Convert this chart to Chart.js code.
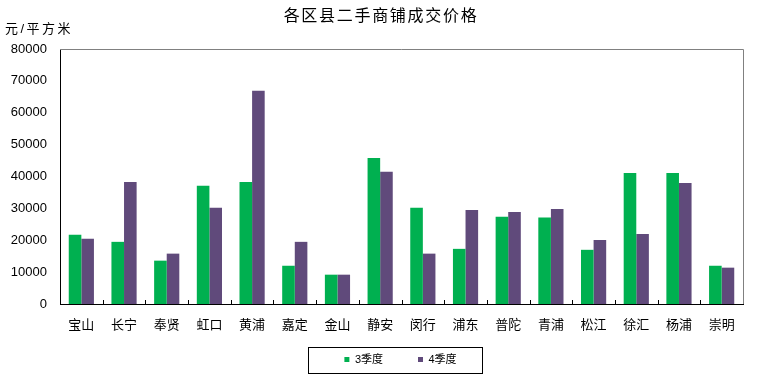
<!DOCTYPE html>
<html><head><meta charset="utf-8">
<script src="https://cdn.jsdelivr.net/npm/chart.js@4.4.1/dist/chart.umd.min.js"></script>
<style>html,body{margin:0;padding:0;background:#fff}#wrap{width:759px;height:385px}</style>
</head><body><div id="wrap"><canvas id="c" width="759" height="385"></canvas></div>
<script>
const categories = ["宝山","长宁","奉贤","虹口","黄浦","嘉定","金山","静安","闵行","浦东","普陀","青浦","松江","徐汇","杨浦","崇明"];
const q3 = [21700,19500,13600,37100,38300,12000,9200,45800,30200,17300,27400,27100,17000,41100,41100,12000];
const q4 = [20500,38300,15800,30200,66900,19500,9200,41500,15800,29500,28900,29800,20100,22000,38000,11400];
const yTicks = [0,10000,20000,30000,40000,50000,60000,70000,80000];
const titleText = "各区县二手商铺成交价格";
const unitText = "元/平方米";
const seriesNames = ["3季度","4季度"];

const FONT = '"Liberation Sans", "Noto Sans CJK SC", sans-serif';

const deco = {
  id: 'deco',
  afterLayout(chart) {
    const lg = chart.legend;
    if (!lg) return;
    lg.left += 29; lg.right += 29;
    lg.top = 319; lg.bottom = 382; lg.height = 63;
  },
  afterDraw(chart) {
    const {ctx, chartArea: a} = chart;
    ctx.save();
    ctx.strokeStyle = '#808080'; ctx.lineWidth = 1;
    ctx.beginPath();
    ctx.moveTo(a.left, a.top + 0.5); ctx.lineTo(a.right + 0.5, a.top + 0.5); ctx.lineTo(a.right + 0.5, a.bottom);
    ctx.stroke();
    const xs = chart.scales.x;
    ctx.strokeStyle = '#000';
    ctx.beginPath();
    for (let i = 1; i < categories.length; i++) {
      const px = Math.round(xs.getPixelForValue(i - 0.5)) + 0.5;
      ctx.moveTo(px, a.bottom); ctx.lineTo(px, a.bottom - 4);
    }
    ctx.stroke();
    ctx.fillStyle = '#000';
    ctx.textBaseline = 'middle';
    ctx.font = '16px ' + FONT;
    ctx.letterSpacing = '1.7px';
    ctx.textAlign = 'center';
    ctx.fillText(titleText, 381, 17);
    ctx.font = '13px ' + FONT;
    ctx.letterSpacing = '2.5px';
    ctx.textAlign = 'left';
    ctx.fillText(unitText, 5, 29);
    ctx.letterSpacing = '0px';
    const lg = chart.legend;
    if (lg && lg.legendHitBoxes && lg.legendHitBoxes.length) {
      const hb = lg.legendHitBoxes;
      const l = Math.min(...hb.map(h => h.left));
      const r = Math.max(...hb.map(h => h.left + h.width));
      const cy = hb[0].top + hb[0].height / 2;
      ctx.strokeStyle = '#000'; ctx.lineWidth = 1;
      ctx.strokeRect(Math.round(l - 36) + 0.5, Math.round(cy - 13) + 0.5, Math.round(r - l + 62), 26);
    }
    ctx.restore();
  }
};

new Chart(document.getElementById('c'), {
  type: 'bar',
  data: {
    labels: categories,
    datasets: [
      {label: seriesNames[0], data: q3, backgroundColor: '#00B050', categoryPercentage: 0.59, barPercentage: 1.0},
      {label: seriesNames[1], data: q4, backgroundColor: '#604A7B', categoryPercentage: 0.59, barPercentage: 1.0}
    ]
  },
  options: {
    responsive: false,
    animation: false,
    layout: {padding: {top: 49, left: 0, right: 16, bottom: 5}},
    plugins: {
      title: {display: false},
      tooltip: {enabled: false},
      legend: {
        position: 'bottom',
        maxHeight: 40,
        labels: {
          boxWidth: 5, boxHeight: 5, padding: 35,
          color: '#000',
          font: {size: 11, family: FONT}
        }
      }
    },
    scales: {
      x: {
        grid: {display: false, drawTicks: false},
        border: {display: true, color: '#000', width: 1},
        ticks: {color: '#000', font: {size: 13, family: FONT}, padding: 14, maxRotation: 0, autoSkip: false},
        afterFit(s) { s.height = 36; }
      },
      y: {
        min: 0, max: 80000,
        afterBuildTicks(s) { s.ticks = yTicks.map(v => ({value: v})); },
        grid: {display: false, drawTicks: false},
        border: {display: true, color: '#000', width: 1},
        ticks: {color: '#000', font: {size: 13, family: FONT}, padding: 13, callback: v => String(v)},
        afterFit(s) { s.width = 60; }
      }
    }
  },
  plugins: [deco]
});
</script></body></html>
